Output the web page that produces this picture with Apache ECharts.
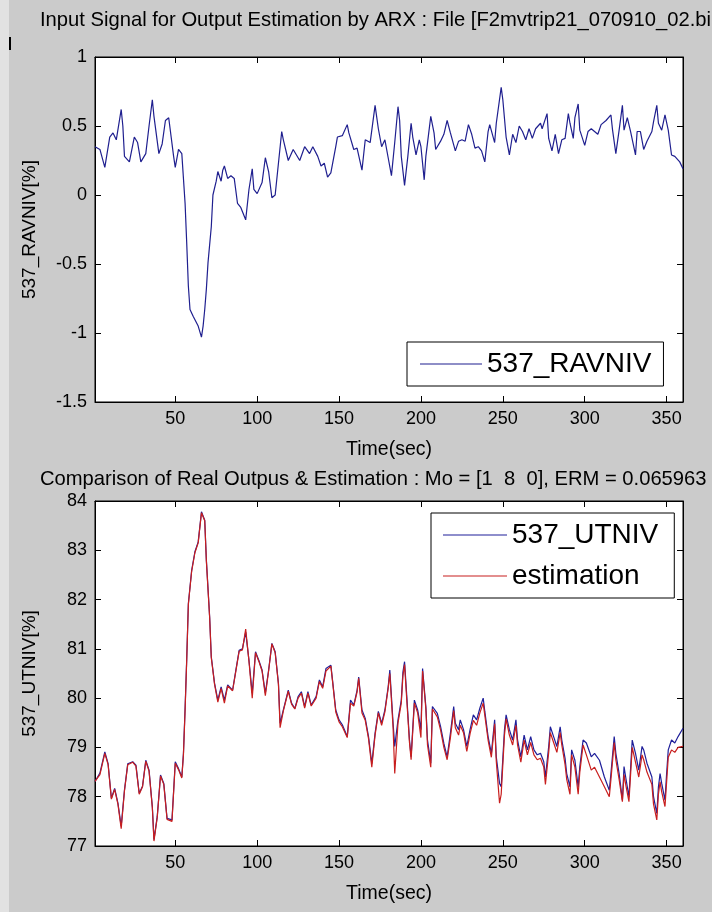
<!DOCTYPE html>
<html>
<head>
<meta charset="utf-8">
<script src="https://cdn.jsdelivr.net/npm/echarts@6/dist/echarts.min.js"></script>
<style>
html,body{margin:0;padding:0;background:#cbcbcb;}
#chart{width:712px;height:912px;}
</style>
</head>
<body>
<div id="chart"></div>
<script>
// ---- Data ----
const xTicks = [50, 100, 150, 200, 250, 300, 350];

const time1 = [
  1,4,7,10,12,14,17,18,19,22,
  25,27,29,32,34,36,37,40,42,44,
  46,49,50,52,54,56,57,58,59,61,
  62,64,66,67,68,69,70,72,73,75,
  76,78,79,80,82,84,86,88,90,93,
  95,97,98,100,103,105,107,109,111,113,
  115,116,119,122,126,129,132,134,137,139,
  141,143,145,148,149,152,155,156,159,161,
  164,166,169,172,174,176,178,180,182,184,
  186,187,188,190,192,194,195,197,199,200,
  202,203,206,208,209,212,214,216,218,221,
  223,225,227,229,231,233,235,237,239,241,
  242,245,246,249,250,252,254,256,258,260,
  262,264,266,268,270,273,274,277,278,280,
  282,284,286,288,290,291,293,294,296,297,
  300,302,304,306,308,310,313,316,317,319,
  321,323,324,326,328,331,332,334,336,338,
  341,342,344,345,347,349,351,353,355,358,
  360
];
const ravniv = [
  0.35,0.33,0.20,0.42,0.45,0.40,0.62,0.50,0.28,0.24,
  0.42,0.38,0.24,0.30,0.50,0.69,0.57,0.30,0.37,0.54,
  0.56,0.28,0.20,0.33,0.30,-0.06,-0.35,-0.66,-0.83,-0.88,
  -0.87,-0.95,-1.03,-0.95,-0.83,-0.68,-0.49,-0.23,0.0,0.10,
  0.17,0.10,0.18,0.21,0.12,0.14,0.12,-0.06,-0.09,-0.18,
  0.04,0.19,0.04,0.01,0.09,0.27,0.17,-0.02,0.0,0.23,
  0.46,0.40,0.25,0.33,0.25,0.35,0.30,0.35,0.28,0.21,
  0.23,0.13,0.16,0.35,0.42,0.43,0.51,0.45,0.33,0.34,
  0.18,0.40,0.38,0.65,0.48,0.35,0.40,0.27,0.14,0.38,
  0.64,0.54,0.28,0.07,0.28,0.52,0.42,0.29,0.40,0.35,
  0.11,0.28,0.57,0.45,0.33,0.39,0.44,0.54,0.45,0.32,
  0.39,0.40,0.39,0.51,0.44,0.34,0.35,0.32,0.24,0.46,
  0.51,0.38,0.52,0.78,0.69,0.42,0.29,0.44,0.38,0.50,
  0.46,0.40,0.48,0.41,0.48,0.52,0.48,0.59,0.41,0.32,
  0.44,0.30,0.40,0.41,0.59,0.52,0.41,0.56,0.66,0.47,
  0.36,0.46,0.48,0.46,0.44,0.51,0.54,0.58,0.47,0.30,
  0.47,0.65,0.47,0.56,0.46,0.29,0.46,0.46,0.33,0.39,
  0.46,0.53,0.65,0.52,0.47,0.58,0.47,0.29,0.28,0.24,
  0.19
];

const time2 = [
  1,4,7,9,11,13,15,17,19,21,
  24,26,28,30,32,34,36,37,39,41,
  43,45,48,50,52,54,55,56,57,58,
  60,62,64,66,68,69,71,72,74,76,
  78,80,82,85,87,89,91,93,95,97,
  99,101,103,105,107,109,111,113,114,116,
  119,121,123,125,127,129,131,133,136,138,
  140,142,145,146,148,150,152,155,157,159,
  161,162,164,166,168,170,172,174,176,178,
  180,181,183,184,186,188,189,190,191,193,
  194,196,198,200,201,203,204,206,207,210,
  212,214,216,218,220,221,223,224,226,228,
  230,232,234,236,238,239,241,243,245,246,
  248,249,251,252,254,256,258,259,261,263,
  265,267,269,271,273,275,276,278,279,281,
  283,285,286,288,289,291,292,294,296,297,
  299,301,304,306,309,312,315,316,318,319,
  321,323,324,325,327,329,331,333,335,336,
  338,341,342,344,345,346,347,349,350,351,
  353,355,357,360
];
const utniv = [
  78.31,78.48,78.91,78.67,77.97,78.17,77.87,77.40,78.14,78.67,
  78.71,78.64,78.07,78.21,78.74,78.54,77.80,77.13,77.60,78.44,
  78.27,77.56,77.53,78.71,78.57,78.40,78.88,79.79,80.80,81.92,
  82.59,82.97,83.17,83.78,83.61,82.80,81.65,80.84,80.30,79.96,
  80.23,79.96,80.27,80.16,80.57,80.97,81.00,81.34,80.77,80.10,
  80.94,80.77,80.57,80.10,80.57,81.11,80.94,80.30,79.49,79.76,
  80.16,79.90,79.79,80.03,80.13,79.83,80.13,79.86,80.03,80.37,
  80.23,80.60,80.67,80.37,79.76,79.56,79.46,79.22,79.96,79.86,
  80.16,80.43,79.76,79.59,79.22,78.67,79.29,79.73,79.49,79.76,
  80.23,80.57,79.49,79.02,79.56,79.96,80.53,80.74,80.23,79.15,
  78.81,79.96,79.76,79.36,80.60,79.83,79.15,78.68,79.83,79.69,
  79.42,79.08,78.81,79.29,79.83,79.49,79.36,79.56,79.36,79.02,
  79.36,79.66,79.56,79.80,80.00,79.73,79.22,78.88,79.56,78.81,
  78.27,78.20,79.36,79.66,79.36,79.15,79.56,79.15,78.81,79.25,
  78.95,79.22,78.95,78.85,78.88,78.71,78.40,79.02,79.42,79.22,
  79.02,79.42,79.15,78.78,78.47,78.20,78.95,78.74,78.20,78.61,
  79.15,79.09,78.81,78.88,78.74,78.40,78.13,78.47,79.22,78.88,
  78.47,77.93,78.61,78.40,78.00,79.15,78.88,78.54,79.02,78.95,
  78.68,78.40,78.00,77.66,78.20,78.47,78.27,77.93,78.47,78.95,
  79.15,79.09,79.22,79.39
];
const estimation = [
  78.31,78.45,78.88,78.65,77.95,78.15,77.85,77.35,78.12,78.65,
  78.70,78.62,78.05,78.20,78.72,78.52,77.78,77.10,77.58,78.42,
  78.25,77.54,77.50,78.68,78.55,78.38,78.85,79.75,80.78,81.90,
  82.57,82.95,83.15,83.76,83.60,82.78,81.63,80.82,80.28,79.92,
  80.20,79.90,80.25,80.15,80.55,80.95,80.98,81.40,80.75,80.00,
  80.92,80.75,80.55,80.05,80.55,81.10,80.92,80.28,79.40,79.74,
  80.14,79.88,79.78,80.00,80.10,79.80,80.10,79.84,80.00,80.34,
  80.20,80.55,80.65,80.35,79.72,79.52,79.42,79.20,79.90,79.84,
  80.12,80.40,79.70,79.55,79.18,78.60,79.25,79.70,79.45,79.72,
  80.20,80.50,79.40,78.47,79.50,79.90,80.45,80.68,80.15,79.10,
  78.75,79.90,79.70,79.20,80.55,79.78,79.05,78.60,79.78,79.62,
  79.35,79.00,78.75,79.20,79.75,79.40,79.25,79.45,79.30,78.92,
  79.28,79.55,79.45,79.70,79.90,79.65,79.15,78.80,79.48,78.72,
  77.87,78.05,79.25,79.58,79.25,79.05,79.45,79.05,78.70,79.15,
  78.85,79.10,78.85,78.75,78.78,78.60,78.25,78.90,79.30,79.10,
  78.90,79.30,79.05,78.65,78.35,78.05,78.85,78.60,78.05,78.50,
  79.05,78.85,78.54,78.60,78.40,78.20,78.00,78.35,79.10,78.75,
  78.35,77.90,78.45,78.25,77.90,79.00,78.70,78.40,78.85,78.75,
  78.50,78.25,77.85,77.53,78.05,78.30,78.10,77.80,78.30,78.80,
  78.95,78.90,79.00,79.02
];

// ---- Chart ----
const FONT = "'Liberation Sans', Arial, Helvetica, sans-serif";
const zip = (xs, ys) => xs.map((x, i) => [x, ys[i]]);

const G = [
  {left: 95, top: 57, width: 588, height: 345},
  {left: 95, top: 501, width: 588, height: 345}
];

function xAxes(gi) {
  const base = {
    type: 'value', gridIndex: gi, min: 1, max: 360,
    splitLine: {show: false},
    axisLine: {show: true, onZero: false, lineStyle: {color: '#000', width: 1}},
    axisTick: {show: true, inside: true, length: 6, customValues: xTicks, lineStyle: {color: '#000'}}
  };
  return [
    Object.assign({}, base, {
      position: 'bottom',
      axisLabel: {show: true, customValues: xTicks, color: '#000', fontFamily: FONT, fontSize: 18, margin: 8},
      name: 'Time(sec)', nameLocation: 'middle', nameGap: 38,
      nameTextStyle: {color: '#000', fontFamily: FONT, fontSize: 19.5}
    }),
    Object.assign({}, base, {position: 'top', axisLabel: {show: false}})
  ];
}
function yAxes(gi, min, max, interval, name) {
  const base = {
    type: 'value', gridIndex: gi, min: min, max: max, interval: interval,
    splitLine: {show: false},
    axisLine: {show: true, onZero: false, lineStyle: {color: '#000', width: 1}},
    axisTick: {show: true, inside: true, length: 6, lineStyle: {color: '#000'}}
  };
  return [
    Object.assign({}, base, {
      position: 'left',
      axisLabel: {show: true, color: '#000', fontFamily: FONT, fontSize: 18, margin: 8},
      name: name, nameLocation: 'middle', nameGap: 56, nameRotate: 90,
      nameTextStyle: {color: '#000', fontFamily: FONT, fontSize: 19}
    }),
    Object.assign({}, base, {position: 'right', axisLabel: {show: false}})
  ];
}

const chart = echarts.init(document.getElementById('chart'), null, {renderer: 'canvas'});
chart.setOption({
  backgroundColor: '#cbcbcb',
  animation: false,
  title: [
    {text: 'Input Signal for Output Estimation by ARX : File [F2mvtrip21_070910_02.bin]', left: 40, top: 10,
     textStyle: {color: '#000', fontFamily: FONT, fontSize: 20.2, fontWeight: 'normal'}, padding: 0},
    {text: 'Comparison of Real Outpus & Estimation : Mo = [1  8  0], ERM = 0.065963', left: 40, top: 469,
     textStyle: {color: '#000', fontFamily: FONT, fontSize: 20.2, fontWeight: 'normal'}, padding: 0}
  ],
  grid: G.map(g => Object.assign({show: true, backgroundColor: '#fff', borderColor: '#000', borderWidth: 1, containLabel: false}, g)),
  xAxis: xAxes(0).concat(xAxes(1)),
  yAxis: yAxes(0, -1.5, 1, 0.5, '537_RAVNIV[%]').concat(yAxes(1, 77, 84, 1, '537_UTNIV[%]')),
  legend: [
    {data: ['537_RAVNIV'], left: 407, top: 342, orient: 'vertical', selectedMode: false,
     icon: 'rect', itemWidth: 62, itemHeight: 1, padding: [7, 12, 7, 13],
     backgroundColor: '#fff', borderColor: '#000', borderWidth: 1,
     textStyle: {color: '#000', fontFamily: FONT, fontSize: 28, lineHeight: 30}},
    {data: ['537_UTNIV', 'estimation'], left: 431, top: 513, orient: 'vertical', selectedMode: false,
     icon: 'rect', itemWidth: 64, itemHeight: 1, itemGap: 11, padding: [7, 16, 7, 12],
     backgroundColor: '#fff', borderColor: '#000', borderWidth: 1,
     textStyle: {color: '#000', fontFamily: FONT, fontSize: 28, lineHeight: 30}}
  ],
  graphic: [
    {type: 'rect', shape: {x: 0, y: 0, width: 9, height: 912}, style: {fill: '#e2e2e2'}, silent: true},
    {type: 'rect', shape: {x: 9, y: 37, width: 2, height: 13}, style: {fill: '#000'}, silent: true}
  ],
  series: [
    {name: '537_RAVNIV', type: 'line', xAxisIndex: 0, yAxisIndex: 0, data: zip(time1, ravniv),
     symbol: 'none', lineStyle: {color: '#1f1f8f', width: 1.2}, itemStyle: {color: '#1f1f8f'}},
    {name: '537_UTNIV', type: 'line', xAxisIndex: 2, yAxisIndex: 2, data: zip(time2, utniv),
     symbol: 'none', lineStyle: {color: '#1f1f9a', width: 1.2}, itemStyle: {color: '#1f1f9a'}},
    {name: 'estimation', type: 'line', xAxisIndex: 2, yAxisIndex: 2, data: zip(time2, estimation),
     symbol: 'none', lineStyle: {color: '#c81e1e', width: 1.2}, itemStyle: {color: '#c81e1e'}}
  ]
});
</script>
</body>
</html>
